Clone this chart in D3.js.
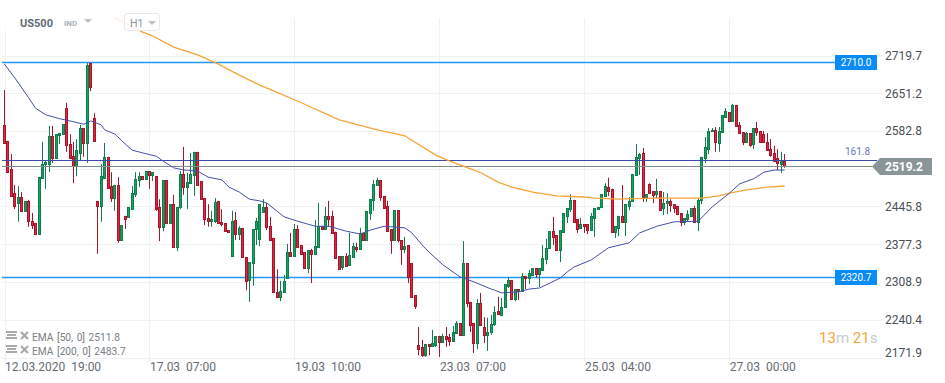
<!DOCTYPE html>
<html>
<head>
<meta charset="utf-8">
<script src="https://cdn.jsdelivr.net/npm/d3@7"></script>
<style>
  body { margin: 0; background: #fff; }
  svg { display: block; font-family: Roboto, sans-serif; }
  text { white-space: pre; }
</style>
</head>
<body>
<svg id="chart" width="945" height="383"></svg>
<script>
const opens = [2594,2565,2514,2470,2452,2463,2438,2456,2419,2416,
  2396,2498,2523,2523,2574,2534,2576,2577,2624,2559,
  2537,2519,2543,2588,2561,2706,2606,2456,2447,2498,
  2536,2483,2461,2485,2385,2429,2427,2441,2468,2494,
  2501,2496,2510,2503,2501,2445,2409,2494,2416,2450,
  2372,2445,2505,2481,2488,2503,2545,2492,2461,2425,
  2419,2419,2456,2418,2416,2403,2356,2421,2396,2407,
  2354,2312,2343,2405,2387,2436,2445,2410,2389,2291,
  2282,2291,2316,2363,2356,2405,2376,2363,2334,2367,
  2360,2372,2410,2405,2429,2429,2400,2356,2336,2356,
  2340,2354,2372,2369,2398,2385,2434,2458,2485,2494,
  2465,2447,2405,2385,2439,2385,2369,2376,2343,2285,
  2195,2191,2176,2196,2193,2195,2211,2200,2211,2209,
  2202,2216,2234,2213,2343,2273,2234,2198,2271,2227,
  2213,2218,2233,2256,2249,2263,2302,2312,2278,2296,
  2292,2320,2316,2322,2334,2323,2331,2351,2371,2401,
  2394,2367,2400,2429,2441,2458,2423,2407,2414,2414,
  2403,2425,2441,2445,2465,2481,2478,2400,2407,2429,
  2418,2447,2456,2503,2534,2543,2463,2487,2474,2468,
  2474,2443,2452,2456,2450,2447,2434,2418,2423,2429,
  2443,2418,2458,2534,2550,2583,2585,2561,2581,2608,
  2617,2601,2630,2594,2581,2563,2579,2559,2588,2583,
  2577,2563,2550,2543,2534,2523,2528]
const closes = [2561,2508,2465,2447,2463,2438,2456,2419,2412,2396,
  2499,2523,2527,2574,2534,2577,2579,2595,2556,2534,
  2519,2548,2588,2561,2702,2663,2565,2447,2501,2536,
  2479,2461,2485,2385,2412,2423,2445,2470,2496,2501,
  2496,2510,2503,2508,2441,2409,2494,2416,2450,2372,
  2445,2505,2481,2490,2505,2545,2485,2459,2423,2419,
  2423,2454,2416,2414,2401,2400,2419,2396,2407,2354,
  2311,2345,2405,2419,2450,2445,2409,2385,2291,2282,
  2292,2311,2363,2356,2405,2372,2360,2334,2367,2360,
  2374,2410,2405,2429,2423,2398,2352,2332,2356,2338,
  2358,2374,2369,2398,2385,2438,2459,2487,2494,2463,
  2443,2401,2385,2439,2385,2369,2374,2318,2282,2265,
  2187,2176,2196,2193,2198,2211,2200,2211,2205,2202,
  2218,2234,2213,2343,2271,2231,2198,2271,2231,2213,
  2218,2233,2254,2251,2263,2305,2312,2278,2296,2292,
  2320,2316,2325,2334,2323,2334,2352,2371,2401,2391,
  2367,2403,2434,2443,2458,2419,2405,2414,2410,2403,
  2429,2443,2445,2468,2483,2474,2400,2410,2429,2418,
  2450,2456,2505,2536,2541,2463,2468,2470,2467,2474,
  2439,2452,2456,2448,2443,2432,2418,2425,2432,2443,
  2418,2458,2536,2554,2583,2585,2563,2583,2612,2619,
  2601,2630,2592,2579,2563,2579,2557,2588,2581,2563,
  2563,2548,2539,2528,2525,2528,2519]
const highs = [2657,2565,2541,2485,2483,2472,2456,2458,2434,2416,
  2499,2563,2530,2592,2592,2577,2579,2595,2634,2577,
  2563,2568,2594,2588,2706,2706,2615,2456,2523,2561,
  2536,2508,2485,2499,2412,2429,2445,2483,2508,2508,
  2501,2510,2510,2508,2501,2459,2494,2494,2450,2467,
  2445,2510,2554,2507,2543,2545,2545,2492,2461,2450,
  2438,2461,2456,2441,2416,2403,2438,2436,2410,2407,
  2354,2345,2405,2425,2450,2459,2452,2427,2389,2332,
  2311,2322,2378,2398,2414,2412,2376,2363,2367,2369,
  2421,2452,2410,2445,2456,2438,2400,2356,2356,2361,
  2398,2380,2380,2407,2398,2438,2459,2494,2498,2494,
  2465,2456,2405,2439,2439,2385,2391,2376,2343,2285,
  2227,2204,2196,2196,2222,2211,2211,2215,2227,2215,
  2229,2238,2234,2383,2343,2273,2234,2278,2289,2245,
  2244,2249,2265,2282,2280,2305,2318,2312,2296,2296,
  2325,2320,2331,2334,2334,2334,2376,2387,2401,2427,
  2394,2403,2434,2443,2468,2458,2423,2425,2414,2414,
  2434,2443,2445,2468,2488,2498,2478,2410,2429,2485,
  2450,2463,2505,2559,2543,2552,2468,2488,2474,2496,
  2474,2472,2470,2459,2450,2447,2434,2425,2439,2443,
  2447,2461,2536,2572,2588,2588,2590,2590,2612,2624,
  2617,2632,2630,2599,2581,2581,2579,2588,2599,2583,
  2583,2579,2568,2556,2550,2545,2541]
const lows = [2561,2508,2465,2441,2418,2438,2438,2409,2405,2394,
  2396,2498,2478,2508,2525,2534,2559,2577,2545,2534,
  2488,2501,2530,2536,2525,2655,2565,2360,2418,2498,
  2479,2454,2438,2380,2385,2405,2427,2441,2463,2481,
  2496,2496,2478,2492,2438,2383,2401,2416,2416,2372,
  2365,2441,2467,2441,2488,2465,2485,2459,2412,2409,
  2409,2416,2416,2410,2401,2398,2354,2385,2385,2354,
  2294,2273,2302,2376,2374,2436,2403,2385,2291,2280,
  2274,2291,2316,2356,2356,2372,2360,2334,2325,2307,
  2360,2372,2405,2405,2409,2398,2352,2332,2331,2338,
  2340,2354,2363,2369,2385,2385,2421,2438,2485,2456,
  2443,2401,2360,2385,2381,2340,2361,2307,2282,2260,
  2176,2173,2173,2176,2193,2191,2173,2200,2191,2193,
  2202,2216,2213,2213,2263,2218,2180,2187,2231,2198,
  2184,2213,2229,2251,2249,2263,2298,2278,2274,2276,
  2292,2296,2305,2322,2316,2300,2331,2341,2371,2376,
  2367,2345,2400,2416,2436,2419,2398,2407,2398,2396,
  2403,2391,2441,2445,2465,2465,2400,2389,2392,2416,
  2392,2439,2456,2503,2503,2454,2454,2470,2452,2461,
  2438,2430,2432,2436,2434,2432,2410,2412,2418,2429,
  2418,2401,2450,2525,2541,2583,2545,2545,2581,2608,
  2601,2601,2590,2579,2557,2563,2554,2550,2574,2563,
  2561,2548,2536,2528,2512,2507,2516]

const ema50Idx = [0,3,7,9,12,16,19,23,25,28,29,32,35,37,40,44,46,49,52,56,59,63,65,68,71,74,76,81,85,90,94,99,103,106,110,116,118,121,123,127,132,136,141,142,144,149,152,155,158,161,163,165,170,175,181,184,189,194,201,205,210,213,217,220,223,226]
const ema50Val = [2704,2679,2643,2624,2612,2605,2601,2595,2601,2594,2585,2577,2559,2548,2543,2537,2528,2516,2512,2510,2499,2494,2481,2472,2459,2456,2452,2427,2419,2410,2410,2401,2396,2403,2410,2407,2398,2376,2363,2340,2318,2309,2296,2294,2289,2291,2296,2298,2307,2316,2327,2336,2349,2371,2380,2398,2410,2418,2419,2445,2470,2487,2496,2508,2512,2512]
const ema200Idx = [32,40,43,49,56,62,68,74,86,97,108,116,118,125,129,135,138,143,147,153,160,168,171,178,188,196,202,207,210,215,221,226]
const ema200Val = [2788,2762,2755,2735,2721,2704,2684,2666,2634,2603,2585,2574,2566,2539,2528,2514,2507,2490,2481,2472,2465,2463,2461,2459,2461,2461,2461,2465,2470,2476,2481,2483]

const yTicks = [2719.7,2651.2,2582.8,2514.3,2445.8,2377.3,2308.9,2240.4,2171.9]
const xTickIdx = [0,42,84,126,168,210]
const xTickLabels = ['12.03.2020  19:00','17.03  07:00','19.03  10:00','23.03  07:00','25.03  04:00','27.03  00:00']
const levelVals = [2707.7,2318]
const levelLabels = ['2710.0','2320.7']
const fibVal = 2531
const fibLabel = '161.8'
const lastVal = 2519.2
const emaLegend = ['EMA [50, 0] 2511.8','EMA [200, 0] 2483.7']

const svg = d3.select('#chart')
const x = d3.scaleLinear().domain([0, 226]).range([4.5, 784.6])
const y = d3.scaleLinear().domain([2171.9, 2719.7]).range([357.5, 55.5])
const px = i => Math.floor(x(i)) - 1

// grid
svg.append('g').selectAll('line').data(yTicks).enter().append('line')
  .attr('x1', 2).attr('x2', 882)
  .attr('y1', d => Math.round(y(d)) + .5).attr('y2', d => Math.round(y(d)) + .5)
  .attr('stroke', '#f1f1f3')
svg.append('g').selectAll('line').data(xTickIdx).enter().append('line')
  .attr('x1', d => Math.round(x(d)) + .5).attr('x2', d => Math.round(x(d)) + .5)
  .attr('y1', 18).attr('y2', 361)
  .attr('stroke', '#f1f1f3')

// axes
const yAxis = svg.append('g')
  .attr('transform', 'translate(885,0)')
  .call(d3.axisRight(y).tickValues(yTicks.filter(d => d !== 2514.3)).tickSize(0).tickPadding(0).tickFormat(d3.format('.1f')))
yAxis.select('.domain').remove()
yAxis.selectAll('text').style('font-size', '12px').style('font-family', 'Roboto').attr('fill', '#4a4f54')
// lowest label sits a bit above its gridline
yAxis.selectAll('text').filter(d => d === 2171.9).attr('y', -4.5)

const xAxis = svg.append('g')
  .attr('transform', 'translate(0,358)')
  .call(d3.axisBottom(x).tickValues(xTickIdx).tickSize(0).tickPadding(4.5).tickFormat((d, i) => xTickLabels[i]))
xAxis.select('.domain').remove()
xAxis.selectAll('text').style('font-size', '12px').style('font-family', 'Roboto')
  .style('text-anchor', 'start').attr('fill', '#666c72')

// horizontal levels
svg.append('g').selectAll('line').data(levelVals).enter().append('line')
  .attr('x1', 2).attr('x2', 836)
  .attr('y1', d => Math.round(y(d)) + .5).attr('y2', d => Math.round(y(d)) + .5)
  .attr('stroke', '#2196f3').attr('stroke-width', 1.3)

// candles
const idx = d3.range(opens.length)
const candles = svg.append('g')
candles.selectAll('.wick').data(idx).enter().append('line')
  .attr('class', 'wick')
  .attr('x1', i => px(i) + 1.5).attr('x2', i => px(i) + 1.5)
  .attr('y1', i => y(highs[i])).attr('y2', i => y(lows[i]))
  .attr('stroke', i => closes[i] >= opens[i] ? '#0f7d4c' : '#a3162c')
candles.selectAll('.body').data(idx).enter().append('rect')
  .attr('class', 'body')
  .attr('x', i => px(i) + .5).attr('width', 2)
  .attr('y', i => Math.round(y(Math.max(opens[i], closes[i]))) + .5)
  .attr('height', i => Math.max(1, Math.round(Math.abs(y(opens[i]) - y(closes[i])))))
  .attr('fill', i => closes[i] >= opens[i] ? '#13a463' : '#e8223c')
  .attr('stroke', i => closes[i] >= opens[i] ? '#0f7d4c' : '#a3162c')

// price lines
svg.append('line').attr('x1', 2).attr('x2', 877)
  .attr('y1', Math.round(y(fibVal)) + .5).attr('y2', Math.round(y(fibVal)) + .5)
  .attr('stroke', '#3c4ba6').attr('stroke-width', 1.2)
svg.append('line').attr('x1', 2).attr('x2', 874)
  .attr('y1', Math.round(y(lastVal)) + .5).attr('y2', Math.round(y(lastVal)) + .5)
  .attr('stroke', '#7f8c8d').attr('stroke-width', 1.2)
svg.append('text').text(fibLabel)
  .attr('x', 845).attr('y', y(fibVal) - 5)
  .style('font-size', '10px').attr('fill', '#6b75c2')

// emas
const lineOf = vals => d3.line().x(i => x(i)).y((i, k) => y(vals[k]))
svg.append('path').attr('d', lineOf(ema200Val)(ema200Idx))
  .attr('fill', 'none').attr('stroke', '#f7a436').attr('stroke-width', 1.3)
svg.append('path').attr('d', lineOf(ema50Val)(ema50Idx))
  .attr('fill', 'none').attr('stroke', '#4350ab').attr('stroke-width', 1)

// level tags
levelVals.forEach((v, i) => {
  const cy = Math.round(y(v))
  svg.append('rect').attr('x', 835).attr('y', cy - 7).attr('width', 42).attr('height', 15).attr('fill', '#0a8cf6')
  svg.append('text').text(levelLabels[i]).attr('x', 856).attr('y', cy + 4)
    .style('font-size', '10px').style('text-anchor', 'middle').attr('fill', '#fff')
})

// last price tag
const ly = Math.round(y(lastVal))
svg.append('path')
  .attr('d', d3.line()([[872, ly + .5], [880, ly - 8], [932, ly - 8], [932, ly + 9], [880, ly + 9]]) + 'Z')
  .attr('fill', '#8a9597')
svg.append('text').text(d3.format('.1f')(lastVal)).attr('x', 885).attr('y', ly + 5)
  .style('font-size', '12px').style('font-weight', 'bold').attr('fill', '#fff')

// header
svg.append('rect').attr('x', 0).attr('y', 0).attr('width', 124).attr('height', 30).attr('fill', '#fff').attr('opacity', .85)
svg.append('text').text('US500').attr('x', 20).attr('y', 27)
  .style('font-size', '11px').style('font-weight', 'bold').attr('fill', '#5f6b75')
svg.append('text').text('IND').attr('x', 64).attr('y', 26)
  .style('font-size', '8px').style('font-weight', 'bold').attr('fill', '#a9b2b8')
svg.append('path').attr('d', 'M84 19L92 19L88 23Z').attr('fill', '#bcc2c6')
svg.append('rect').attr('x', 124.5).attr('y', 13.5).attr('width', 35).attr('height', 17).attr('rx', 3)
  .attr('fill', '#fff').attr('fill-opacity', .9).attr('stroke', '#e8e9ea')
svg.append('text').text('H1').attr('x', 130).attr('y', 27)
  .style('font-size', '10.5px').attr('fill', '#8a949c')
svg.append('path').attr('d', 'M148 21L156 21L152 25Z').attr('fill', '#bcc2c6')

// ema legend
emaLegend.forEach((t, i) => {
  const base = 341 + i * 14
  const g = svg.append('g').attr('transform', `translate(6,${base - 10})`)
  g.append('rect').attr('x', 0).attr('y', 0).attr('width', 11).attr('height', 2).attr('fill', '#aaa')
  g.append('rect').attr('x', 1).attr('y', 3).attr('width', 9).attr('height', 2).attr('fill', '#aaa')
  g.append('rect').attr('x', 0).attr('y', 6).attr('width', 11).attr('height', 2).attr('fill', '#aaa')
  g.append('path').attr('d', 'M15 1L22 8M22 1L15 8').attr('stroke', '#aaa').attr('stroke-width', 2.2)
  svg.append('text').text(t).attr('x', 32).attr('y', base)
    .style('font-size', '10.2px').style('word-spacing', '1px').attr('fill', '#787d82')
})

// countdown
const countdown = svg.append('text').attr('x', 819).attr('y', 343).style('font-size', '15px')
countdown.append('tspan').text('13').attr('fill', '#f7a436')
countdown.append('tspan').text('m ').attr('fill', '#c6ccd0')
countdown.append('tspan').text('21').attr('fill', '#f7a436')
countdown.append('tspan').text('s').attr('fill', '#c6ccd0')
</script>
</body>
</html>
